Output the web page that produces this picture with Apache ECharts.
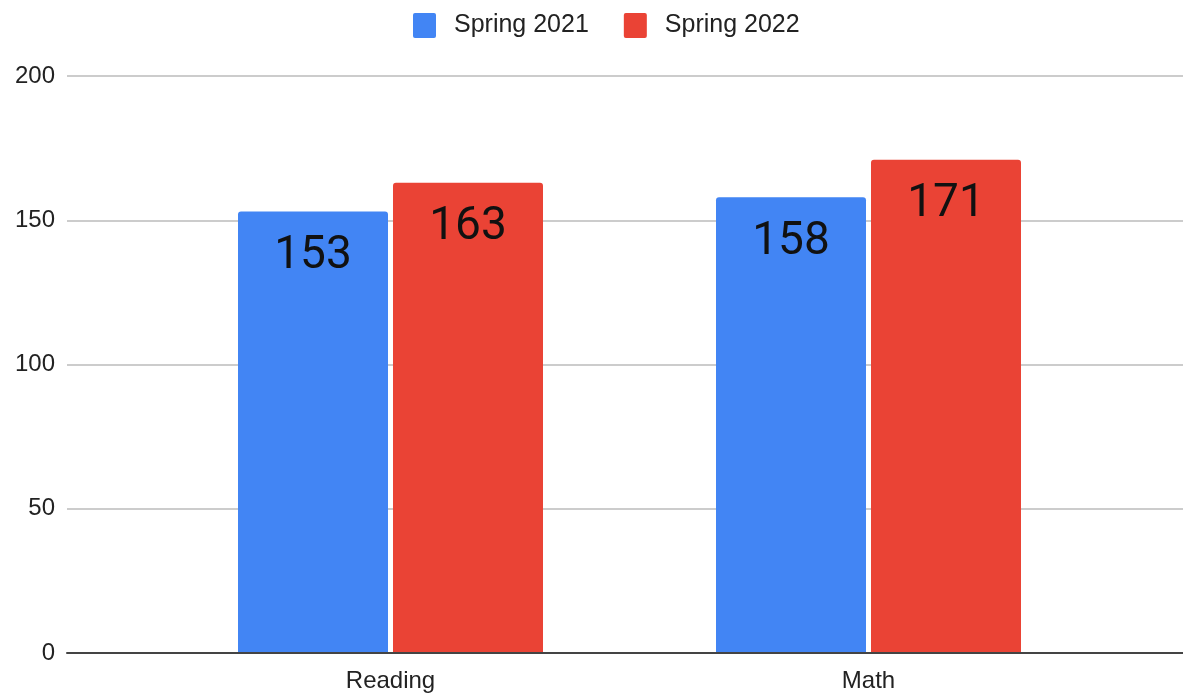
<!DOCTYPE html>
<html lang="en">
<head>
    <meta charset="UTF-8">
    <title>Spring scores</title>
    <style>
        html, body { margin: 0; padding: 0; background: #fff; }
        #demo { width: 1183px; height: 695px; }
    </style>
</head>
<body>
<div id="demo"></div>
<script type="text/javascript" src="https://cdn.jsdelivr.net/npm/echarts@6/dist/echarts.min.js"></script>
<script type="text/javascript">
var categories = ['Reading', 'Math'];
var spring2021 = [153, 158];
var spring2022 = [163, 171];
var yTicks = [0, 50, 100, 150, 200];

var myChart = echarts.init(document.getElementById('demo'));
var font = '"Liberation Sans", Arial, sans-serif';
var numFont = 'Roboto, "Liberation Sans", sans-serif';
var legendIcon = 'path://M2,0 H21 A2,2 0 0 1 23,2 V23 A2,2 0 0 1 21,25 H2 A2,2 0 0 1 0,23 V2 A2,2 0 0 1 2,0 Z';

var barLabel = {
    show: true,
    position: 'insideTop',
    distance: 22,
    color: '#111',
    fontSize: 46,
    fontFamily: numFont
};

option = {
    animation: false,
    legend: {
        top: 8,
        left: 408,
        icon: legendIcon,
        itemWidth: 23,
        itemHeight: 25,
        itemGap: 35,
        textStyle: { fontSize: 25, color: '#222', fontFamily: font, padding: [0, 0, 0, 13] },
        data: ['Spring 2021', 'Spring 2022']
    },
    grid: [
        // background grid: gridlines, y labels, baseline
        { left: 67, right: 0, top: 76, bottom: 42 },
        // bars
        { left: 151.5, right: 75.5, top: 76, bottom: 42 }
    ],
    xAxis: [
        {
            gridIndex: 0, type: 'value', min: 0, max: 1,
            axisLabel: { show: false }, axisTick: { show: false },
            splitLine: { show: false },
            axisLine: { show: true, onZero: false, lineStyle: { color: '#444', width: 2 } },
            z: 5
        },
        {
            gridIndex: 1, type: 'category', data: categories,
            axisLine: { show: false }, axisTick: { show: false },
            axisLabel: { fontSize: 24, color: '#222', fontFamily: font, margin: 16 }
        }
    ],
    yAxis: [
        {
            gridIndex: 0, type: 'value', min: yTicks[0], max: yTicks[yTicks.length - 1], interval: 50,
            axisLine: { show: false },
            axisTick: { show: false },
            axisLabel: { fontSize: 24, color: '#222', fontFamily: font, margin: 12 },
            splitLine: { lineStyle: { color: '#ccc', width: 2 } }
        },
        {
            gridIndex: 1, type: 'value', min: 0, max: 200, show: false,
            splitLine: { show: false }
        }
    ],
    series: [
        {
            name: 'Spring 2021', type: 'bar', xAxisIndex: 1, yAxisIndex: 1,
            data: spring2021, barWidth: 150, barGap: '3.33%',
            itemStyle: { color: '#4285F4', borderRadius: [3, 3, 0, 0] },
            label: barLabel
        },
        {
            name: 'Spring 2022', type: 'bar', xAxisIndex: 1, yAxisIndex: 1,
            data: spring2022, barWidth: 150, barGap: '3.33%',
            itemStyle: { color: '#EA4335', borderRadius: [3, 3, 0, 0] },
            label: barLabel
        }
    ]
};
myChart.setOption(option);
</script>
</body>
</html>
